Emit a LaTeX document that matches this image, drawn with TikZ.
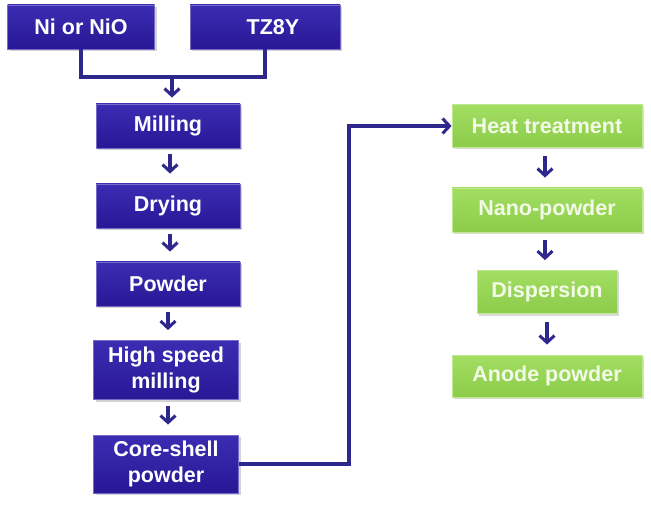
\documentclass[tikz,border=0pt]{standalone}
\usepackage{fontspec}
\setmainfont{Liberation Sans}
\usetikzlibrary{arrows.meta,shadows}
\definecolor{boxblue}{RGB}{40,24,150}
\definecolor{boxbluetop}{RGB}{60,44,178}
\definecolor{boxgreen}{RGB}{140,204,74}
\definecolor{boxgreentop}{RGB}{162,222,98}
\definecolor{linkblue}{RGB}{46,40,140}
\definecolor{greentext}{RGB}{244,250,232}
\tikzset{
  bluebox/.style={draw=boxbluetop!70!white, line width=0.8pt, top color=boxbluetop, bottom color=boxblue,
    text=white, font=\bfseries\fontsize{21.5}{26}\selectfont, align=center, inner sep=0pt,
    drop shadow={shadow xshift=2pt, shadow yshift=-2pt, opacity=0.35}},
  greenbox/.style={draw=boxgreentop!70!white, line width=0.8pt, top color=boxgreentop, bottom color=boxgreen,
    text=greentext, font=\bfseries\fontsize{21.5}{26}\selectfont, align=center, inner sep=0pt,
    drop shadow={shadow xshift=2pt, shadow yshift=-2pt, opacity=0.3}},
  link/.style={draw=linkblue, line width=3.4pt},
  arr/.style={link, -{Straight Barb[length=7pt,width=15pt,line width=3pt]}},
}
\begin{document}
\begin{tikzpicture}[x=1pt,y=-1pt]
\useasboundingbox (0,0) rectangle (651,505);
% left column
\node[bluebox, minimum width=147, minimum height=44] (ni) at (81,27) {Ni or NiO};
\node[bluebox, minimum width=150, minimum height=44] (tz) at (265,27) {\hspace*{16pt}TZ8Y};
\node[bluebox, minimum width=144, minimum height=44] (mill) at (168,126) {Milling};
\node[bluebox, minimum width=144, minimum height=44] (dry) at (168,206) {Drying};
\node[bluebox, minimum width=144, minimum height=44] (pow) at (168,284) {Powder};
\node[bluebox, minimum width=145, minimum height=59] (hsm) at (166,370) {High speed\\milling};
\node[bluebox, minimum width=145, minimum height=58] (core) at (166,464) {Core-shell\\powder};
% right column
\node[greenbox, minimum width=190, minimum height=43] (heat) at (547,126) {Heat treatment};
\node[greenbox, minimum width=190, minimum height=44] (nano) at (547,210) {Nano-powder};
\node[greenbox, minimum width=140, minimum height=43] (disp) at (547,292) {Dispersion};
\node[greenbox, minimum width=190, minimum height=42] (anode) at (547,376) {Anode powder};
% connectors
\coordinate (merge) at (172,77);
\draw[link] (ni.south) |- (merge) -| (tz.south);
\draw[arr, shorten >=6pt] (merge) -- (merge |- mill.north);
\draw[arr, shorten <=6pt, shorten >=10pt] (mill.south -| 170,0) -- (dry.north -| 170,0);
\draw[arr, shorten <=6pt, shorten >=10pt] (dry.south -| 170,0) -- (pow.north -| 170,0);
\draw[arr, shorten <=6pt, shorten >=10pt] (pow.south -| 168,0) -- (hsm.north -| 168,0);
\draw[arr, shorten <=6pt, shorten >=10pt] (hsm.south -| 168,0) -- (core.north -| 168,0);
\draw[arr] (core.east) -- ++(110,0) |- (heat.west);
\draw[arr, shorten <=8pt, shorten >=10pt] (heat.south -| 545,0) -- (nano.north -| 545,0);
\draw[arr, shorten <=8pt, shorten >=10pt] (nano.south -| 545,0) -- (disp.north -| 545,0);
\draw[arr, shorten <=8pt, shorten >=10pt] (disp.south -| 547,0) -- (anode.north -| 547,0);
\end{tikzpicture}
\end{document}
